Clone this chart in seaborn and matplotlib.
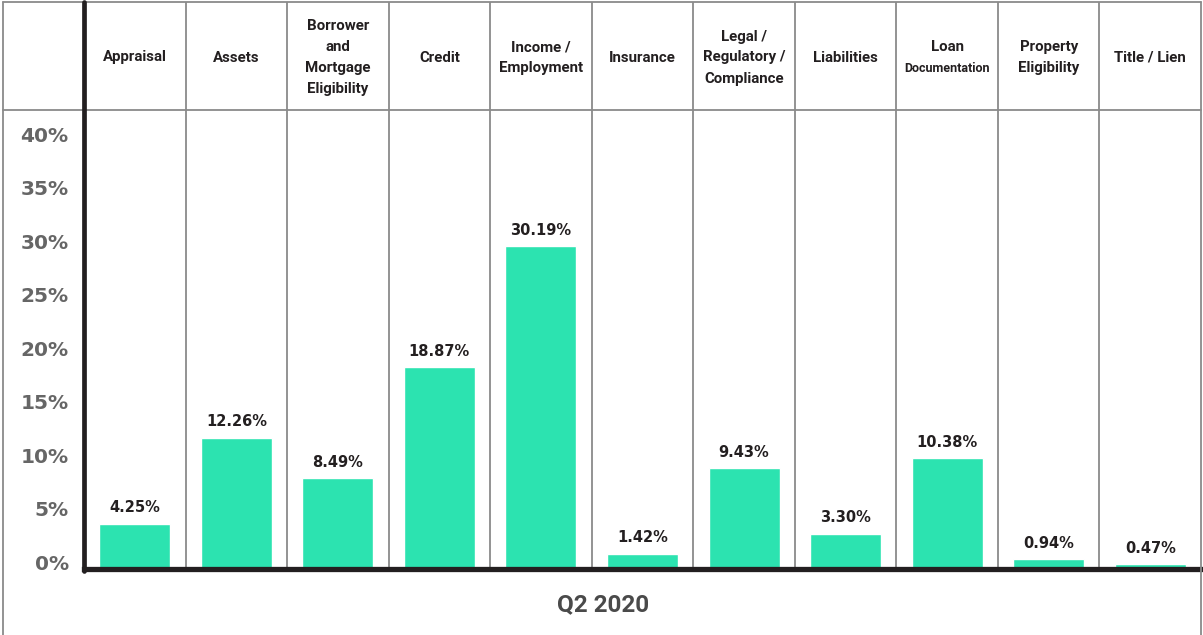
import matplotlib
matplotlib.use("Agg")
import matplotlib.pyplot as plt
from matplotlib import font_manager
from matplotlib.lines import Line2D
import matplotlib.transforms as mtransforms
import seaborn as sns
import pandas as pd

# Data
categories = ["Appraisal", "Assets", "Borrower\nand\nMortgage\nEligibility", "Credit",
              "Income /\nEmployment", "Insurance", "Legal /\nRegulatory /\nCompliance",
              "Liabilities", "Loan\nDocumentation", "Property\nEligibility", "Title / Lien"]
values = [4.25, 12.26, 8.49, 18.87, 30.19, 1.42, 9.43, 3.30, 10.38, 0.94, 0.47]
y_ticks = [0, 5, 10, 15, 20, 25, 30, 35, 40]
y_tick_labels = [f"{t}%" for t in y_ticks]
period_label = "Q2 2020"

BAR_COLOR = "#2ce3b0"
GRID_GRAY = "#8a8a8a"
AXIS_BLACK = "#231f20"
TEXT_DARK = "#231f20"

sns.set_theme(style="white")
plt.rcParams["font.family"] = ["DejaVu Sans"]

available = {f.name for f in font_manager.fontManager.ttflist}
header_font = "Roboto" if "Roboto" in available else "DejaVu Sans"

W, H = 1203, 635
fig = plt.figure(figsize=(W / 100, H / 100), dpi=100)
fig.patch.set_facecolor("white")

def fx(px):
    return px / W

def fy(py):
    return 1 - py / H

left_px, right_px = 84, 1201
top_px, base_px, head_top_px = 110, 569, 2

ax = fig.add_axes([fx(left_px), fy(base_px), fx(right_px - left_px), (base_px - top_px) / H])
hax = fig.add_axes([fx(left_px), fy(top_px), fx(right_px - left_px), (top_px - head_top_px) / H])

df = pd.DataFrame({"category": categories, "value": values})
sns.barplot(data=df, x="category", y="value", color=BAR_COLOR, width=0.7,
            saturation=1, ax=ax, zorder=2)

n = len(categories)
ax.set_xlim(-0.5, n - 0.5)
ax.set_ylim(0, 42.9)
ax.set_xlabel("")
ax.set_ylabel("")
ax.set_xticks([])
ax.set_yticks(y_ticks)
ax.set_yticklabels(y_tick_labels, fontsize=14.5, fontweight="bold", color="#666666")
ax.tick_params(axis="y", length=0, pad=11)
offset = mtransforms.ScaledTranslation(0, 7 / 100, fig.dpi_scale_trans)
for lbl in ax.get_yticklabels():
    lbl.set_transform(lbl.get_transform() + offset)

for side in ["top", "right", "left"]:
    ax.spines[side].set_visible(False)
ax.spines["bottom"].set_color(AXIS_BLACK)
ax.spines["bottom"].set_linewidth(3.8)
ax.spines["bottom"].set_zorder(5)

# value labels above bars
for i, v in enumerate(values):
    ax.annotate(f"{v:.2f}%", (i, v), xytext=(0, 6), textcoords="offset points",
                ha="center", va="bottom", fontsize=10.5, fontweight="bold",
                color=TEXT_DARK, zorder=4)

# column separators through both header and plot
for i in range(n - 1):
    ax.axvline(i + 0.5, color=GRID_GRAY, lw=1.3, zorder=1)

# header row
hax.set_xlim(-0.5, n - 0.5)
hax.set_ylim(top_px, head_top_px)
hax.axis("off")
for i in range(n - 1):
    hax.axvline(i + 0.5, color=GRID_GRAY, lw=1.3)
line_gap = 21
center = 57.5
for i, cat in enumerate(categories):
    lines = cat.split("\n")
    k = len(lines)
    for j, line in enumerate(lines):
        y = center + (j - (k - 1) / 2) * line_gap
        size = 9.0 if len(line) > 12 else 10.8
        hax.text(i, y, line, ha="center", va="center", fontsize=size,
                 fontweight="bold", color=TEXT_DARK, family=header_font)

# frame lines
fig.add_artist(Line2D([fx(3), fx(3)], [fy(2), fy(H + 2)], color=GRID_GRAY, lw=1.3))
fig.add_artist(Line2D([fx(1201), fx(1201)], [fy(2), fy(H + 2)], color=GRID_GRAY, lw=1.3))
fig.add_artist(Line2D([fx(3), fx(1201)], [fy(2), fy(2)], color=GRID_GRAY, lw=1.3))
fig.add_artist(Line2D([fx(3), fx(1201)], [fy(110), fy(110)], color=GRID_GRAY, lw=1.3))
fig.add_artist(Line2D([fx(84), fx(84)], [fy(2), fy(571)], color=AXIS_BLACK, lw=3.4, zorder=10))

fig.text(fx(603), fy(605), period_label, ha="center", va="center", fontsize=17.5,
         fontweight="bold", color="#4a4a4a", family=header_font)

fig.savefig("out.png", dpi=100, facecolor="white")
